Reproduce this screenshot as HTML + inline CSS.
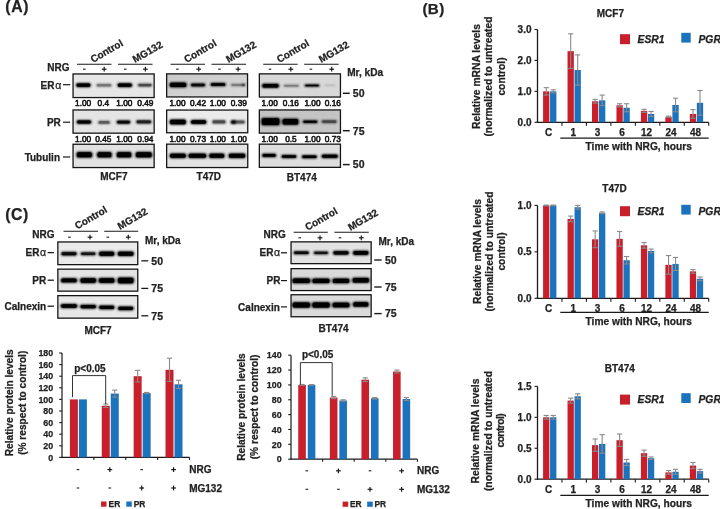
<!DOCTYPE html>
<html><head><meta charset="utf-8"><title>Figure</title>
<style>html,body{margin:0;padding:0;background:#fff;}body{width:720px;height:509px;overflow:hidden;font-family:"Liberation Sans", sans-serif;}svg{display:block;will-change:transform;} text{stroke:#222;stroke-width:0.25px;}</style>
</head><body>
<svg width="720" height="509" viewBox="0 0 720 509" font-family='"Liberation Sans", sans-serif'>
<defs><filter id="bl" x="-40%" y="-250%" width="180%" height="600%"><feGaussianBlur stdDeviation="0.95"/></filter><linearGradient id="gT" x1="0" y1="0" x2="1" y2="1"><stop offset="0" stop-color="#c8c8c8"/><stop offset="1" stop-color="#dadada"/></linearGradient></defs>
<rect width="720" height="509" fill="#fff"/>
<text x="5.3" y="11.9" font-size="15.8" text-anchor="start" font-weight="bold" fill="#222" letter-spacing="0.6">(A)</text>
<text x="422.5" y="13.5" font-size="15.2" text-anchor="start" font-weight="bold" fill="#222" letter-spacing="0.3">(B)</text>
<text x="5.3" y="219.8" font-size="15.8" text-anchor="start" font-weight="bold" fill="#222" letter-spacing="0.5">(C)</text>
<line x1="77.0" y1="64.3" x2="111.5" y2="64.3" stroke="#1a1a1a" stroke-width="1.1"/>
<line x1="118.0" y1="64.3" x2="152.5" y2="64.3" stroke="#1a1a1a" stroke-width="1.1"/>
<text x="93.0" y="63" font-size="10" text-anchor="start" font-weight="bold" fill="#222" transform="rotate(-30 93.0 63)">Control</text>
<text x="135.1" y="63.1" font-size="10" text-anchor="start" font-weight="bold" fill="#222" transform="rotate(-30 135.1 63.1)">MG132</text>
<line x1="83.0" y1="69.2" x2="85.6" y2="69.2" stroke="#1a1a1a" stroke-width="1.1"/>
<line x1="101.8" y1="69.2" x2="106.6" y2="69.2" stroke="#1a1a1a" stroke-width="1.2"/>
<line x1="104.2" y1="66.8" x2="104.2" y2="71.6" stroke="#1a1a1a" stroke-width="1.2"/>
<line x1="124.0" y1="69.2" x2="126.6" y2="69.2" stroke="#1a1a1a" stroke-width="1.1"/>
<line x1="143.0" y1="69.2" x2="147.8" y2="69.2" stroke="#1a1a1a" stroke-width="1.2"/>
<line x1="145.4" y1="66.8" x2="145.4" y2="71.6" stroke="#1a1a1a" stroke-width="1.2"/>
<line x1="170.5" y1="64.3" x2="205" y2="64.3" stroke="#1a1a1a" stroke-width="1.1"/>
<line x1="211.5" y1="64.3" x2="246" y2="64.3" stroke="#1a1a1a" stroke-width="1.1"/>
<text x="186.5" y="63" font-size="10" text-anchor="start" font-weight="bold" fill="#222" transform="rotate(-30 186.5 63)">Control</text>
<text x="228.6" y="63.1" font-size="10" text-anchor="start" font-weight="bold" fill="#222" transform="rotate(-30 228.6 63.1)">MG132</text>
<line x1="176.1" y1="69.2" x2="178.7" y2="69.2" stroke="#1a1a1a" stroke-width="1.1"/>
<line x1="196.3" y1="69.2" x2="201.1" y2="69.2" stroke="#1a1a1a" stroke-width="1.2"/>
<line x1="198.7" y1="66.8" x2="198.7" y2="71.6" stroke="#1a1a1a" stroke-width="1.2"/>
<line x1="218.2" y1="69.2" x2="220.8" y2="69.2" stroke="#1a1a1a" stroke-width="1.1"/>
<line x1="235.7" y1="69.2" x2="240.5" y2="69.2" stroke="#1a1a1a" stroke-width="1.2"/>
<line x1="238.1" y1="66.8" x2="238.1" y2="71.6" stroke="#1a1a1a" stroke-width="1.2"/>
<line x1="263.2" y1="64.3" x2="297.7" y2="64.3" stroke="#1a1a1a" stroke-width="1.1"/>
<line x1="304.2" y1="64.3" x2="338.7" y2="64.3" stroke="#1a1a1a" stroke-width="1.1"/>
<text x="279.2" y="63" font-size="10" text-anchor="start" font-weight="bold" fill="#222" transform="rotate(-30 279.2 63)">Control</text>
<text x="321.3" y="63.1" font-size="10" text-anchor="start" font-weight="bold" fill="#222" transform="rotate(-30 321.3 63.1)">MG132</text>
<line x1="268.7" y1="69.2" x2="271.3" y2="69.2" stroke="#1a1a1a" stroke-width="1.1"/>
<line x1="288.4" y1="69.2" x2="293.2" y2="69.2" stroke="#1a1a1a" stroke-width="1.2"/>
<line x1="290.8" y1="66.8" x2="290.8" y2="71.6" stroke="#1a1a1a" stroke-width="1.2"/>
<line x1="309.6" y1="69.2" x2="312.2" y2="69.2" stroke="#1a1a1a" stroke-width="1.1"/>
<line x1="329.3" y1="69.2" x2="334.1" y2="69.2" stroke="#1a1a1a" stroke-width="1.2"/>
<line x1="331.7" y1="66.8" x2="331.7" y2="71.6" stroke="#1a1a1a" stroke-width="1.2"/>
<text x="69.5" y="71.3" font-size="10" text-anchor="end" font-weight="bold" fill="#222">NRG</text>
<text x="61.3" y="88.7" font-size="10" text-anchor="end" font-weight="bold" fill="#222">ER<tspan font-weight="normal" dx="0.8" font-size="10.5">α</tspan></text>
<line x1="63" y1="84.7" x2="70.2" y2="84.7" stroke="#1a1a1a" stroke-width="1.2"/>
<text x="60.8" y="125.8" font-size="10" text-anchor="end" font-weight="bold" fill="#222">PR</text>
<line x1="63" y1="122.2" x2="70.2" y2="122.2" stroke="#1a1a1a" stroke-width="1.2"/>
<text x="60" y="160.6" font-size="10" text-anchor="end" font-weight="bold" fill="#222">Tubulin</text>
<line x1="63" y1="157" x2="70.2" y2="157" stroke="#1a1a1a" stroke-width="1.2"/>
<rect x="73.05" y="73.95" width="81.1" height="23.6" fill="#e6e6e6" stroke="#151515" stroke-width="1.3"/>
<g opacity="1"><rect x="75.70" y="82.90" width="15.40" height="4.40" rx="2.20" fill="#000" filter="url(#bl)"/><rect x="76.70" y="83.40" width="13.40" height="3.40" rx="1.54" fill="#000"/></g>
<g opacity="0.5"><rect x="96.00" y="83.75" width="16.00" height="3.10" rx="1.55" fill="#000" filter="url(#bl)"/><rect x="97.00" y="84.25" width="14.00" height="2.10" rx="1.08" fill="#000"/></g>
<g opacity="1"><rect x="117.05" y="82.90" width="15.50" height="4.40" rx="2.20" fill="#000" filter="url(#bl)"/><rect x="118.05" y="83.40" width="13.50" height="3.40" rx="1.54" fill="#000"/></g>
<g opacity="0.68"><rect x="137.45" y="83.50" width="14.90" height="3.20" rx="1.60" fill="#000" filter="url(#bl)"/><rect x="138.45" y="84.00" width="12.90" height="2.20" rx="1.12" fill="#000"/></g>
<rect x="73.05" y="109.95" width="81.1" height="23.2" fill="#e4e4e4" stroke="#151515" stroke-width="1.3"/>
<g opacity="1"><rect x="76.30" y="120.10" width="15.40" height="4.00" rx="2.00" fill="#000" filter="url(#bl)"/><rect x="77.30" y="120.60" width="13.40" height="3.00" rx="1.40" fill="#000"/></g>
<g opacity="0.62"><rect x="97.85" y="120.80" width="12.50" height="3.20" rx="1.60" fill="#000" filter="url(#bl)"/><rect x="98.85" y="121.30" width="10.50" height="2.20" rx="1.12" fill="#000"/></g>
<g opacity="0.95"><rect x="116.25" y="120.30" width="14.50" height="3.60" rx="1.80" fill="#000" filter="url(#bl)"/><rect x="117.25" y="120.80" width="12.50" height="2.60" rx="1.26" fill="#000"/></g>
<g opacity="0.85"><rect x="135.80" y="119.95" width="16.00" height="3.70" rx="1.85" fill="#000" filter="url(#bl)"/><rect x="136.80" y="120.45" width="14.00" height="2.70" rx="1.29" fill="#000"/></g>
<rect x="73.05" y="144.25" width="81.1" height="23.3" fill="#e2e2e2" stroke="#151515" stroke-width="1.3"/>
<g opacity="1"><rect x="76.20" y="151.75" width="16.40" height="6.10" rx="2.20" fill="#000" filter="url(#bl)"/><rect x="77.20" y="152.25" width="14.40" height="5.10" rx="1.54" fill="#000"/></g>
<g opacity="1"><rect x="96.65" y="151.75" width="15.50" height="6.10" rx="2.20" fill="#000" filter="url(#bl)"/><rect x="97.65" y="152.25" width="13.50" height="5.10" rx="1.54" fill="#000"/></g>
<g opacity="1"><rect x="116.25" y="151.75" width="15.70" height="6.10" rx="2.20" fill="#000" filter="url(#bl)"/><rect x="117.25" y="152.25" width="13.70" height="5.10" rx="1.54" fill="#000"/></g>
<g opacity="1"><rect x="135.20" y="151.75" width="17.20" height="6.10" rx="2.20" fill="#000" filter="url(#bl)"/><rect x="136.20" y="152.25" width="15.20" height="5.10" rx="1.54" fill="#000"/></g>
<rect x="166.65" y="73.85" width="80.9" height="23.1" fill="url(#gT)" stroke="#151515" stroke-width="1.3"/>
<g opacity="1"><rect x="169.20" y="82.30" width="17.80" height="5.20" rx="2.20" fill="#000" filter="url(#bl)"/><rect x="170.20" y="82.80" width="15.80" height="4.20" rx="1.54" fill="#000"/></g>
<g opacity="0.95"><rect x="190.30" y="83.35" width="15.40" height="3.30" rx="1.65" fill="#000" filter="url(#bl)"/><rect x="191.30" y="83.85" width="13.40" height="2.30" rx="1.16" fill="#000"/></g>
<g opacity="1"><rect x="210.10" y="82.85" width="16.00" height="3.50" rx="1.75" fill="#000" filter="url(#bl)"/><rect x="211.10" y="83.35" width="14.00" height="2.50" rx="1.22" fill="#000"/></g>
<g opacity="0.45"><rect x="230.45" y="83.85" width="14.90" height="2.30" rx="1.15" fill="#000" filter="url(#bl)"/><rect x="231.45" y="84.35" width="12.90" height="1.30" rx="0.81" fill="#000"/></g>
<g opacity="0.6"><rect x="241.65" y="83.85" width="3.70" height="2.10" rx="1.05" fill="#000" filter="url(#bl)"/><rect x="242.65" y="84.35" width="1.70" height="1.10" rx="0.73" fill="#000"/></g>
<rect x="166.65" y="110.05" width="81.1" height="22.7" fill="#ebebeb" stroke="#151515" stroke-width="1.3"/>
<g opacity="1"><rect x="169.30" y="119.25" width="17.20" height="5.50" rx="2.20" fill="#000" filter="url(#bl)"/><rect x="170.30" y="119.75" width="15.20" height="4.50" rx="1.54" fill="#000"/></g>
<g opacity="1"><rect x="190.30" y="119.80" width="16.60" height="4.40" rx="2.20" fill="#000" filter="url(#bl)"/><rect x="191.30" y="120.30" width="14.60" height="3.40" rx="1.54" fill="#000"/></g>
<g opacity="0.68"><rect x="211.85" y="120.05" width="14.30" height="3.70" rx="1.85" fill="#000" filter="url(#bl)"/><rect x="212.85" y="120.55" width="12.30" height="2.70" rx="1.29" fill="#000"/></g>
<g opacity="0.62"><rect x="230.45" y="120.15" width="14.90" height="3.70" rx="1.85" fill="#000" filter="url(#bl)"/><rect x="231.45" y="120.65" width="12.90" height="2.70" rx="1.29" fill="#000"/></g>
<rect x="166.65" y="144.15" width="81.1" height="23.4" fill="#e2e2e2" stroke="#151515" stroke-width="1.3"/>
<g opacity="1"><rect x="169.30" y="153.30" width="17.20" height="5.00" rx="2.20" fill="#000" filter="url(#bl)"/><rect x="170.30" y="153.80" width="15.20" height="4.00" rx="1.54" fill="#000"/></g>
<g opacity="1"><rect x="187.95" y="153.30" width="18.90" height="5.00" rx="2.20" fill="#000" filter="url(#bl)"/><rect x="188.95" y="153.80" width="16.90" height="4.00" rx="1.54" fill="#000"/></g>
<g opacity="1"><rect x="208.60" y="153.30" width="16.40" height="5.00" rx="2.20" fill="#000" filter="url(#bl)"/><rect x="209.60" y="153.80" width="14.40" height="4.00" rx="1.54" fill="#000"/></g>
<g opacity="1"><rect x="228.10" y="153.30" width="17.80" height="5.00" rx="2.20" fill="#000" filter="url(#bl)"/><rect x="229.10" y="153.80" width="15.80" height="4.00" rx="1.54" fill="#000"/></g>
<g opacity="0.8"><rect x="230.65" y="120.15" width="5.70" height="3.90" rx="1.95" fill="#000" filter="url(#bl)"/><rect x="231.65" y="120.65" width="3.70" height="2.90" rx="1.36" fill="#000"/></g>
<rect x="259.35" y="73.85" width="81.1" height="23.2" fill="#d8d8d8" stroke="#151515" stroke-width="1.3"/>
<g opacity="1"><rect x="261.60" y="83.40" width="17.80" height="4.60" rx="2.20" fill="#000" filter="url(#bl)"/><rect x="262.60" y="83.90" width="15.80" height="3.60" rx="1.54" fill="#000"/></g>
<g opacity="0.42"><rect x="283.30" y="84.55" width="16.00" height="2.50" rx="1.25" fill="#000" filter="url(#bl)"/><rect x="284.30" y="85.05" width="14.00" height="1.50" rx="0.88" fill="#000"/></g>
<g opacity="1"><rect x="304.30" y="84.15" width="15.40" height="2.70" rx="1.35" fill="#000" filter="url(#bl)"/><rect x="305.30" y="84.65" width="13.40" height="1.70" rx="0.94" fill="#000"/></g>
<g opacity="0.12"><rect x="324.45" y="84.35" width="11.70" height="1.90" rx="0.95" fill="#000" filter="url(#bl)"/><rect x="325.45" y="84.85" width="9.70" height="0.90" rx="0.67" fill="#000"/></g>
<rect x="259.35" y="109.95" width="81.1" height="23.2" fill="#c4c4c4" stroke="#151515" stroke-width="1.3"/>
<g opacity="1"><rect x="261.10" y="117.65" width="19.00" height="7.90" rx="2.20" fill="#000" filter="url(#bl)"/><rect x="262.10" y="118.15" width="17.00" height="6.90" rx="1.54" fill="#000"/></g>
<g opacity="1"><rect x="281.85" y="118.45" width="17.10" height="6.50" rx="2.20" fill="#000" filter="url(#bl)"/><rect x="282.85" y="118.95" width="15.10" height="5.50" rx="1.54" fill="#000"/></g>
<g opacity="1"><rect x="302.45" y="120.35" width="15.50" height="2.90" rx="1.45" fill="#000" filter="url(#bl)"/><rect x="303.45" y="120.85" width="13.50" height="1.90" rx="1.02" fill="#000"/></g>
<g opacity="0.65"><rect x="321.20" y="120.05" width="16.00" height="3.10" rx="1.55" fill="#000" filter="url(#bl)"/><rect x="322.20" y="120.55" width="14.00" height="2.10" rx="1.08" fill="#000"/></g>
<rect x="259.35" y="144.15" width="81.1" height="23.2" fill="#dedede" stroke="#151515" stroke-width="1.3"/>
<g opacity="1"><rect x="261.65" y="153.45" width="14.90" height="3.90" rx="1.95" fill="#000" filter="url(#bl)"/><rect x="262.65" y="153.95" width="12.90" height="2.90" rx="1.36" fill="#000"/></g>
<g opacity="1"><rect x="281.00" y="154.70" width="16.00" height="3.60" rx="1.80" fill="#000" filter="url(#bl)"/><rect x="282.00" y="155.20" width="14.00" height="2.60" rx="1.26" fill="#000"/></g>
<g opacity="1"><rect x="301.40" y="155.00" width="16.00" height="3.60" rx="1.80" fill="#000" filter="url(#bl)"/><rect x="302.40" y="155.50" width="14.00" height="2.60" rx="1.26" fill="#000"/></g>
<g opacity="1"><rect x="321.20" y="154.35" width="17.20" height="3.90" rx="1.95" fill="#000" filter="url(#bl)"/><rect x="322.20" y="154.85" width="15.20" height="2.90" rx="1.36" fill="#000"/></g>
<text x="83.1" y="105.8" font-size="8.3" text-anchor="middle" font-weight="normal" fill="#111" style="stroke:#111;stroke-width:0.55px">1.00</text>
<text x="103.3" y="105.8" font-size="8.3" text-anchor="middle" font-weight="normal" fill="#111" style="stroke:#111;stroke-width:0.55px">0.4</text>
<text x="124.4" y="105.8" font-size="8.3" text-anchor="middle" font-weight="normal" fill="#111" style="stroke:#111;stroke-width:0.55px">1.00</text>
<text x="145.4" y="105.8" font-size="8.3" text-anchor="middle" font-weight="normal" fill="#111" style="stroke:#111;stroke-width:0.55px">0.49</text>
<text x="83.1" y="141.7" font-size="8.3" text-anchor="middle" font-weight="normal" fill="#111" style="stroke:#111;stroke-width:0.55px">1.00</text>
<text x="103.3" y="141.7" font-size="8.3" text-anchor="middle" font-weight="normal" fill="#111" style="stroke:#111;stroke-width:0.55px">0.45</text>
<text x="124.4" y="141.7" font-size="8.3" text-anchor="middle" font-weight="normal" fill="#111" style="stroke:#111;stroke-width:0.55px">1.00</text>
<text x="145.4" y="141.7" font-size="8.3" text-anchor="middle" font-weight="normal" fill="#111" style="stroke:#111;stroke-width:0.55px">0.94</text>
<text x="177.5" y="105.8" font-size="8.3" text-anchor="middle" font-weight="normal" fill="#111" style="stroke:#111;stroke-width:0.55px">1.00</text>
<text x="198" y="105.8" font-size="8.3" text-anchor="middle" font-weight="normal" fill="#111" style="stroke:#111;stroke-width:0.55px">0.42</text>
<text x="217.9" y="105.8" font-size="8.3" text-anchor="middle" font-weight="normal" fill="#111" style="stroke:#111;stroke-width:0.55px">1.00</text>
<text x="238.8" y="105.8" font-size="8.3" text-anchor="middle" font-weight="normal" fill="#111" style="stroke:#111;stroke-width:0.55px">0.39</text>
<text x="177.5" y="141.7" font-size="8.3" text-anchor="middle" font-weight="normal" fill="#111" style="stroke:#111;stroke-width:0.55px">1.00</text>
<text x="198" y="141.7" font-size="8.3" text-anchor="middle" font-weight="normal" fill="#111" style="stroke:#111;stroke-width:0.55px">0.73</text>
<text x="217.9" y="141.7" font-size="8.3" text-anchor="middle" font-weight="normal" fill="#111" style="stroke:#111;stroke-width:0.55px">1.00</text>
<text x="238.8" y="141.7" font-size="8.3" text-anchor="middle" font-weight="normal" fill="#111" style="stroke:#111;stroke-width:0.55px">1.00</text>
<text x="269.7" y="105.8" font-size="8.3" text-anchor="middle" font-weight="normal" fill="#111" style="stroke:#111;stroke-width:0.55px">1.00</text>
<text x="290.9" y="105.8" font-size="8.3" text-anchor="middle" font-weight="normal" fill="#111" style="stroke:#111;stroke-width:0.55px">0.16</text>
<text x="312.5" y="105.8" font-size="8.3" text-anchor="middle" font-weight="normal" fill="#111" style="stroke:#111;stroke-width:0.55px">1.00</text>
<text x="332.8" y="105.8" font-size="8.3" text-anchor="middle" font-weight="normal" fill="#111" style="stroke:#111;stroke-width:0.55px">0.16</text>
<text x="269.7" y="141.7" font-size="8.3" text-anchor="middle" font-weight="normal" fill="#111" style="stroke:#111;stroke-width:0.55px">1.00</text>
<text x="290.9" y="141.7" font-size="8.3" text-anchor="middle" font-weight="normal" fill="#111" style="stroke:#111;stroke-width:0.55px">0.5</text>
<text x="312.5" y="141.7" font-size="8.3" text-anchor="middle" font-weight="normal" fill="#111" style="stroke:#111;stroke-width:0.55px">1.00</text>
<text x="332.8" y="141.7" font-size="8.3" text-anchor="middle" font-weight="normal" fill="#111" style="stroke:#111;stroke-width:0.55px">0.73</text>
<text x="113.9" y="180.3" font-size="10" text-anchor="middle" font-weight="bold" fill="#222">MCF7</text>
<text x="208.8" y="180.3" font-size="10" text-anchor="middle" font-weight="bold" fill="#222">T47D</text>
<text x="301.8" y="180.5" font-size="10" text-anchor="middle" font-weight="bold" fill="#222">BT474</text>
<text x="347.2" y="75.8" font-size="10.1" text-anchor="start" font-weight="bold" fill="#222">Mr, kDa</text>
<line x1="342.9" y1="93.3" x2="349.7" y2="93.3" stroke="#1a1a1a" stroke-width="1.5"/>
<text x="352.8" y="97.1" font-size="10.5" text-anchor="start" font-weight="bold" fill="#222">50</text>
<line x1="342.9" y1="130.7" x2="349.7" y2="130.7" stroke="#1a1a1a" stroke-width="1.5"/>
<text x="352.8" y="134.5" font-size="10.5" text-anchor="start" font-weight="bold" fill="#222">75</text>
<line x1="342.9" y1="164.6" x2="349.7" y2="164.6" stroke="#1a1a1a" stroke-width="1.5"/>
<text x="352.8" y="168.4" font-size="10.5" text-anchor="start" font-weight="bold" fill="#222">50</text>
<line x1="63.5" y1="231.3" x2="98.0" y2="231.3" stroke="#1a1a1a" stroke-width="1.1"/>
<line x1="104.2" y1="231.3" x2="138.2" y2="231.3" stroke="#1a1a1a" stroke-width="1.1"/>
<text x="77.2" y="229.5" font-size="10" text-anchor="start" font-weight="bold" fill="#222" transform="rotate(-30 77.2 229.5)">Control</text>
<text x="120.0" y="229.9" font-size="10" text-anchor="start" font-weight="bold" fill="#222" transform="rotate(-30 120.0 229.9)">MG132</text>
<line x1="68.1" y1="237.2" x2="70.7" y2="237.2" stroke="#1a1a1a" stroke-width="1.1"/>
<line x1="87.6" y1="237.2" x2="92.4" y2="237.2" stroke="#1a1a1a" stroke-width="1.2"/>
<line x1="90.0" y1="234.8" x2="90.0" y2="239.6" stroke="#1a1a1a" stroke-width="1.2"/>
<line x1="106.5" y1="237.2" x2="109.1" y2="237.2" stroke="#1a1a1a" stroke-width="1.1"/>
<line x1="125.9" y1="237.2" x2="130.7" y2="237.2" stroke="#1a1a1a" stroke-width="1.2"/>
<line x1="128.3" y1="234.8" x2="128.3" y2="239.6" stroke="#1a1a1a" stroke-width="1.2"/>
<text x="54.5" y="238.4" font-size="10" text-anchor="end" font-weight="bold" fill="#222">NRG</text>
<text x="46.2" y="256.0" font-size="10" text-anchor="end" font-weight="bold" fill="#222">ER<tspan font-weight="normal" dx="0.6" font-size="10.5">α</tspan></text>
<line x1="47.6" y1="252.6" x2="53.9" y2="252.6" stroke="#1a1a1a" stroke-width="1.3"/>
<text x="46.2" y="283.8" font-size="10" text-anchor="end" font-weight="bold" fill="#222">PR</text>
<line x1="47.6" y1="280.2" x2="53.9" y2="280.2" stroke="#1a1a1a" stroke-width="1.3"/>
<text x="46.2" y="309.8" font-size="10" text-anchor="end" font-weight="bold" fill="#222">Calnexin</text>
<line x1="47.6" y1="306.2" x2="53.9" y2="306.2" stroke="#1a1a1a" stroke-width="1.3"/>
<rect x="57.85" y="241.95" width="79.9" height="22.7" fill="#eaeaea" stroke="#151515" stroke-width="1.3"/>
<g opacity="0.95"><rect x="60.75" y="251.75" width="16.50" height="3.90" rx="1.95" fill="#000" filter="url(#bl)"/><rect x="61.75" y="252.25" width="14.50" height="2.90" rx="1.36" fill="#000"/></g>
<g opacity="0.9"><rect x="80.20" y="251.90" width="16.00" height="3.60" rx="1.80" fill="#000" filter="url(#bl)"/><rect x="81.20" y="252.40" width="14.00" height="2.60" rx="1.26" fill="#000"/></g>
<g opacity="1"><rect x="98.45" y="251.15" width="16.50" height="5.10" rx="2.20" fill="#000" filter="url(#bl)"/><rect x="99.45" y="251.65" width="14.50" height="4.10" rx="1.54" fill="#000"/></g>
<g opacity="1"><rect x="117.20" y="251.15" width="17.00" height="5.10" rx="2.20" fill="#000" filter="url(#bl)"/><rect x="118.20" y="251.65" width="15.00" height="4.10" rx="1.54" fill="#000"/></g>
<rect x="57.85" y="269.15" width="79.9" height="22.0" fill="#e4e4e4" stroke="#151515" stroke-width="1.3"/>
<g opacity="1"><rect x="60.50" y="277.95" width="17.00" height="4.90" rx="2.20" fill="#000" filter="url(#bl)"/><rect x="61.50" y="278.45" width="15.00" height="3.90" rx="1.54" fill="#000"/></g>
<g opacity="1"><rect x="79.70" y="277.65" width="17.00" height="5.50" rx="2.20" fill="#000" filter="url(#bl)"/><rect x="80.70" y="278.15" width="15.00" height="4.50" rx="1.54" fill="#000"/></g>
<g opacity="1"><rect x="98.20" y="277.65" width="17.00" height="5.50" rx="2.20" fill="#000" filter="url(#bl)"/><rect x="99.20" y="278.15" width="15.00" height="4.50" rx="1.54" fill="#000"/></g>
<g opacity="1"><rect x="117.20" y="277.15" width="17.00" height="6.50" rx="2.20" fill="#000" filter="url(#bl)"/><rect x="118.20" y="277.65" width="15.00" height="5.50" rx="1.54" fill="#000"/></g>
<rect x="57.85" y="295.65" width="79.9" height="22.5" fill="#e8e8e8" stroke="#151515" stroke-width="1.3"/>
<g opacity="1"><rect x="60.25" y="303.65" width="17.50" height="4.50" rx="2.20" fill="#000" filter="url(#bl)"/><rect x="61.25" y="304.15" width="15.50" height="3.50" rx="1.54" fill="#000"/></g>
<g opacity="1"><rect x="79.70" y="304.45" width="17.00" height="4.30" rx="2.15" fill="#000" filter="url(#bl)"/><rect x="80.70" y="304.95" width="15.00" height="3.30" rx="1.50" fill="#000"/></g>
<g opacity="1"><rect x="98.45" y="305.35" width="16.50" height="4.10" rx="2.05" fill="#000" filter="url(#bl)"/><rect x="99.45" y="305.85" width="14.50" height="3.10" rx="1.44" fill="#000"/></g>
<g opacity="1"><rect x="117.45" y="306.35" width="16.50" height="4.10" rx="2.05" fill="#000" filter="url(#bl)"/><rect x="118.45" y="306.85" width="14.50" height="3.10" rx="1.44" fill="#000"/></g>
<text x="145" y="243.6" font-size="10" text-anchor="start" font-weight="bold" fill="#222">Mr, kDa</text>
<line x1="141.3" y1="260.8" x2="148.3" y2="260.8" stroke="#1a1a1a" stroke-width="1.3"/>
<text x="151.3" y="264.6" font-size="10.5" text-anchor="start" font-weight="bold" fill="#222">50</text>
<line x1="141.3" y1="288.4" x2="148.3" y2="288.4" stroke="#1a1a1a" stroke-width="1.3"/>
<text x="151.3" y="292.2" font-size="10.5" text-anchor="start" font-weight="bold" fill="#222">75</text>
<line x1="141.3" y1="315.8" x2="148.3" y2="315.8" stroke="#1a1a1a" stroke-width="1.3"/>
<text x="151.3" y="319.6" font-size="10.5" text-anchor="start" font-weight="bold" fill="#222">75</text>
<text x="98" y="333.7" font-size="10" text-anchor="middle" font-weight="bold" fill="#222">MCF7</text>
<line x1="293.7" y1="232.3" x2="327.8" y2="232.3" stroke="#1a1a1a" stroke-width="1.1"/>
<line x1="334.4" y1="232.3" x2="368.8" y2="232.3" stroke="#1a1a1a" stroke-width="1.1"/>
<text x="307.5" y="230.8" font-size="10" text-anchor="start" font-weight="bold" fill="#222" transform="rotate(-30 307.5 230.8)">Control</text>
<text x="350.4" y="231" font-size="10" text-anchor="start" font-weight="bold" fill="#222" transform="rotate(-30 350.4 231)">MG132</text>
<line x1="298.5" y1="237.8" x2="301.1" y2="237.8" stroke="#1a1a1a" stroke-width="1.1"/>
<line x1="317.6" y1="237.8" x2="322.4" y2="237.8" stroke="#1a1a1a" stroke-width="1.2"/>
<line x1="320.0" y1="235.4" x2="320.0" y2="240.2" stroke="#1a1a1a" stroke-width="1.2"/>
<line x1="338.7" y1="237.8" x2="341.3" y2="237.8" stroke="#1a1a1a" stroke-width="1.1"/>
<line x1="358.9" y1="237.8" x2="363.7" y2="237.8" stroke="#1a1a1a" stroke-width="1.2"/>
<line x1="361.3" y1="235.4" x2="361.3" y2="240.2" stroke="#1a1a1a" stroke-width="1.2"/>
<text x="285.7" y="237.8" font-size="10" text-anchor="end" font-weight="bold" fill="#222">NRG</text>
<text x="280.2" y="256.2" font-size="10" text-anchor="end" font-weight="bold" fill="#222">ER<tspan font-weight="normal" dx="0.6" font-size="10.5">α</tspan></text>
<line x1="281" y1="252.8" x2="287" y2="252.8" stroke="#1a1a1a" stroke-width="1.3"/>
<text x="280.4" y="284.2" font-size="10" text-anchor="end" font-weight="bold" fill="#222">PR</text>
<line x1="281" y1="280.6" x2="287" y2="280.6" stroke="#1a1a1a" stroke-width="1.2"/>
<text x="279.8" y="310.5" font-size="10" text-anchor="end" font-weight="bold" fill="#222">Calnexin</text>
<line x1="281" y1="306.9" x2="287" y2="306.9" stroke="#1a1a1a" stroke-width="1.2"/>
<rect x="291.05" y="241.85" width="80.1" height="21.8" fill="#e2e2e2" stroke="#151515" stroke-width="1.3"/>
<g opacity="0.95"><rect x="293.15" y="251.00" width="16.30" height="3.60" rx="1.80" fill="#000" filter="url(#bl)"/><rect x="294.15" y="251.50" width="14.30" height="2.60" rx="1.26" fill="#000"/></g>
<g opacity="0.9"><rect x="313.25" y="251.15" width="15.50" height="3.30" rx="1.65" fill="#000" filter="url(#bl)"/><rect x="314.25" y="251.65" width="13.50" height="2.30" rx="1.16" fill="#000"/></g>
<g opacity="0.97"><rect x="332.60" y="250.70" width="16.80" height="4.20" rx="2.10" fill="#000" filter="url(#bl)"/><rect x="333.60" y="251.20" width="14.80" height="3.20" rx="1.47" fill="#000"/></g>
<g opacity="1"><rect x="352.45" y="250.45" width="16.70" height="4.70" rx="2.20" fill="#000" filter="url(#bl)"/><rect x="353.45" y="250.95" width="14.70" height="3.70" rx="1.54" fill="#000"/></g>
<rect x="291.05" y="268.65" width="80.1" height="21.9" fill="#d9d9d9" stroke="#151515" stroke-width="1.3"/>
<g opacity="1"><rect x="291.90" y="278.05" width="18.80" height="5.50" rx="2.20" fill="#000" filter="url(#bl)"/><rect x="292.90" y="278.55" width="16.80" height="4.50" rx="1.54" fill="#000"/></g>
<g opacity="1"><rect x="311.75" y="278.15" width="18.50" height="5.30" rx="2.20" fill="#000" filter="url(#bl)"/><rect x="312.75" y="278.65" width="16.50" height="4.30" rx="1.54" fill="#000"/></g>
<g opacity="1"><rect x="332.00" y="278.15" width="18.00" height="5.30" rx="2.20" fill="#000" filter="url(#bl)"/><rect x="333.00" y="278.65" width="16.00" height="4.30" rx="1.54" fill="#000"/></g>
<g opacity="1"><rect x="351.90" y="277.45" width="17.80" height="5.50" rx="2.20" fill="#000" filter="url(#bl)"/><rect x="352.90" y="277.95" width="15.80" height="4.50" rx="1.54" fill="#000"/></g>
<rect x="291.05" y="294.75" width="80.1" height="22.0" fill="#dadada" stroke="#151515" stroke-width="1.3"/>
<g opacity="1"><rect x="291.90" y="302.05" width="18.80" height="5.90" rx="2.20" fill="#000" filter="url(#bl)"/><rect x="292.90" y="302.55" width="16.80" height="4.90" rx="1.54" fill="#000"/></g>
<g opacity="1"><rect x="311.60" y="302.05" width="18.80" height="5.90" rx="2.20" fill="#000" filter="url(#bl)"/><rect x="312.60" y="302.55" width="16.80" height="4.90" rx="1.54" fill="#000"/></g>
<g opacity="1"><rect x="331.90" y="302.15" width="18.20" height="5.70" rx="2.20" fill="#000" filter="url(#bl)"/><rect x="332.90" y="302.65" width="16.20" height="4.70" rx="1.54" fill="#000"/></g>
<g opacity="1"><rect x="352.45" y="301.85" width="16.70" height="5.10" rx="2.20" fill="#000" filter="url(#bl)"/><rect x="353.45" y="302.35" width="14.70" height="4.10" rx="1.54" fill="#000"/></g>
<text x="378.5" y="244.5" font-size="10" text-anchor="start" font-weight="bold" fill="#222">Mr, kDa</text>
<line x1="374.3" y1="260" x2="381.6" y2="260" stroke="#1a1a1a" stroke-width="1.4"/>
<text x="385" y="263.8" font-size="10.5" text-anchor="start" font-weight="bold" fill="#222">50</text>
<line x1="374.3" y1="287" x2="381.6" y2="287" stroke="#1a1a1a" stroke-width="1.4"/>
<text x="385" y="290.8" font-size="10.5" text-anchor="start" font-weight="bold" fill="#222">75</text>
<line x1="374.3" y1="313.6" x2="381.6" y2="313.6" stroke="#1a1a1a" stroke-width="1.4"/>
<text x="385" y="317.4" font-size="10.5" text-anchor="start" font-weight="bold" fill="#222">75</text>
<text x="333.5" y="331.7" font-size="10" text-anchor="middle" font-weight="bold" fill="#222">BT474</text>
<line x1="62" y1="353.0" x2="62" y2="458.0" stroke="#1a1a1a" stroke-width="1.2"/>
<line x1="61.4" y1="457.4" x2="189.5" y2="457.4" stroke="#1a1a1a" stroke-width="1.2"/>
<line x1="93.88" y1="457.4" x2="93.88" y2="460.0" stroke="#1a1a1a" stroke-width="1.1"/>
<line x1="125.75" y1="457.4" x2="125.75" y2="460.0" stroke="#1a1a1a" stroke-width="1.1"/>
<line x1="157.62" y1="457.4" x2="157.62" y2="460.0" stroke="#1a1a1a" stroke-width="1.1"/>
<line x1="189.5" y1="457.4" x2="189.5" y2="460.0" stroke="#1a1a1a" stroke-width="1.1"/>
<line x1="59.2" y1="457.4" x2="62" y2="457.4" stroke="#1a1a1a" stroke-width="1.1"/>
<text x="53.2" y="460.6" font-size="8.9" text-anchor="end" font-weight="bold" fill="#222">0</text>
<line x1="59.2" y1="445.8" x2="62" y2="445.8" stroke="#1a1a1a" stroke-width="1.1"/>
<text x="53.2" y="449" font-size="8.9" text-anchor="end" font-weight="bold" fill="#222">20</text>
<line x1="59.2" y1="434.2" x2="62" y2="434.2" stroke="#1a1a1a" stroke-width="1.1"/>
<text x="53.2" y="437.4" font-size="8.9" text-anchor="end" font-weight="bold" fill="#222">40</text>
<line x1="59.2" y1="422.6" x2="62" y2="422.6" stroke="#1a1a1a" stroke-width="1.1"/>
<text x="53.2" y="425.8" font-size="8.9" text-anchor="end" font-weight="bold" fill="#222">60</text>
<line x1="59.2" y1="411.0" x2="62" y2="411.0" stroke="#1a1a1a" stroke-width="1.1"/>
<text x="53.2" y="414.2" font-size="8.9" text-anchor="end" font-weight="bold" fill="#222">80</text>
<line x1="59.2" y1="399.4" x2="62" y2="399.4" stroke="#1a1a1a" stroke-width="1.1"/>
<text x="53.2" y="402.6" font-size="8.9" text-anchor="end" font-weight="bold" fill="#222">100</text>
<line x1="59.2" y1="387.8" x2="62" y2="387.8" stroke="#1a1a1a" stroke-width="1.1"/>
<text x="53.2" y="391" font-size="8.9" text-anchor="end" font-weight="bold" fill="#222">120</text>
<line x1="59.2" y1="376.2" x2="62" y2="376.2" stroke="#1a1a1a" stroke-width="1.1"/>
<text x="53.2" y="379.4" font-size="8.9" text-anchor="end" font-weight="bold" fill="#222">140</text>
<line x1="59.2" y1="364.6" x2="62" y2="364.6" stroke="#1a1a1a" stroke-width="1.1"/>
<text x="53.2" y="367.8" font-size="8.9" text-anchor="end" font-weight="bold" fill="#222">160</text>
<line x1="59.2" y1="353.0" x2="62" y2="353.0" stroke="#1a1a1a" stroke-width="1.1"/>
<text x="53.2" y="356.2" font-size="8.9" text-anchor="end" font-weight="bold" fill="#222">180</text>
<rect x="69.89" y="399.4" width="8" height="58" fill="#c91f2b"/>
<rect x="78.89" y="399.4" width="8" height="58" fill="#1b72bd"/>
<rect x="101.76" y="405.78" width="8" height="51.62" fill="#c91f2b"/>
<rect x="110.76" y="393.6" width="8" height="63.8" fill="#1b72bd"/>
<line x1="105.76" y1="404.04" x2="105.76" y2="407.52" stroke="#8a8a8a" stroke-width="1.1"/>
<line x1="103.16" y1="404.04" x2="108.36" y2="404.04" stroke="#8a8a8a" stroke-width="1.1"/>
<line x1="103.16" y1="407.52" x2="108.36" y2="407.52" stroke="#8a8a8a" stroke-width="1.1"/>
<line x1="114.76" y1="390.12" x2="114.76" y2="397.08" stroke="#8a8a8a" stroke-width="1.1"/>
<line x1="112.16" y1="390.12" x2="117.36" y2="390.12" stroke="#8a8a8a" stroke-width="1.1"/>
<line x1="112.16" y1="397.08" x2="117.36" y2="397.08" stroke="#8a8a8a" stroke-width="1.1"/>
<rect x="133.64" y="376.2" width="8" height="81.2" fill="#c91f2b"/>
<rect x="142.64" y="393.02" width="8" height="64.38" fill="#1b72bd"/>
<line x1="137.64" y1="370.4" x2="137.64" y2="382.0" stroke="#8a8a8a" stroke-width="1.1"/>
<line x1="135.04" y1="370.4" x2="140.24" y2="370.4" stroke="#8a8a8a" stroke-width="1.1"/>
<line x1="135.04" y1="382.0" x2="140.24" y2="382.0" stroke="#8a8a8a" stroke-width="1.1"/>
<line x1="146.64" y1="392.44" x2="146.64" y2="393.6" stroke="#8a8a8a" stroke-width="1.1"/>
<line x1="144.04" y1="392.44" x2="149.24" y2="392.44" stroke="#8a8a8a" stroke-width="1.1"/>
<line x1="144.04" y1="393.6" x2="149.24" y2="393.6" stroke="#8a8a8a" stroke-width="1.1"/>
<rect x="165.51" y="369.82" width="8" height="87.58" fill="#c91f2b"/>
<rect x="174.51" y="384.32" width="8" height="73.08" fill="#1b72bd"/>
<line x1="169.51" y1="358.22" x2="169.51" y2="381.42" stroke="#8a8a8a" stroke-width="1.1"/>
<line x1="166.91" y1="358.22" x2="172.11" y2="358.22" stroke="#8a8a8a" stroke-width="1.1"/>
<line x1="166.91" y1="381.42" x2="172.11" y2="381.42" stroke="#8a8a8a" stroke-width="1.1"/>
<line x1="178.51" y1="380.26" x2="178.51" y2="388.38" stroke="#8a8a8a" stroke-width="1.1"/>
<line x1="175.91" y1="380.26" x2="181.11" y2="380.26" stroke="#8a8a8a" stroke-width="1.1"/>
<line x1="175.91" y1="388.38" x2="181.11" y2="388.38" stroke="#8a8a8a" stroke-width="1.1"/>
<line x1="72.5" y1="375.6" x2="72.5" y2="397.2" stroke="#333" stroke-width="1"/>
<line x1="72.5" y1="375.6" x2="105.7" y2="375.6" stroke="#333" stroke-width="1"/>
<line x1="105.7" y1="375.6" x2="105.7" y2="404" stroke="#333" stroke-width="1"/>
<text x="89.9" y="371.6" font-size="10" text-anchor="middle" font-weight="bold" fill="#222">p&lt;0.05</text>
<text x="13.3" y="402.8" font-size="10.15" text-anchor="middle" font-weight="bold" fill="#222" transform="rotate(-90 13.3 402.8)">Relative protein levels</text>
<text x="26.4" y="402.8" font-size="10.15" text-anchor="middle" font-weight="bold" fill="#222" transform="rotate(-90 26.4 402.8)">(% respect to control)</text>
<line x1="76.64" y1="469.6" x2="79.24" y2="469.6" stroke="#1a1a1a" stroke-width="1.1"/>
<line x1="76.64" y1="488" x2="79.24" y2="488" stroke="#1a1a1a" stroke-width="1.1"/>
<line x1="107.41" y1="469.6" x2="112.21" y2="469.6" stroke="#1a1a1a" stroke-width="1.2"/>
<line x1="109.81" y1="467.2" x2="109.81" y2="472.0" stroke="#1a1a1a" stroke-width="1.2"/>
<line x1="108.51" y1="488" x2="111.11" y2="488" stroke="#1a1a1a" stroke-width="1.1"/>
<line x1="140.39" y1="469.6" x2="142.99" y2="469.6" stroke="#1a1a1a" stroke-width="1.1"/>
<line x1="139.29" y1="488" x2="144.09" y2="488" stroke="#1a1a1a" stroke-width="1.2"/>
<line x1="141.69" y1="485.6" x2="141.69" y2="490.4" stroke="#1a1a1a" stroke-width="1.2"/>
<line x1="171.16" y1="469.6" x2="175.96" y2="469.6" stroke="#1a1a1a" stroke-width="1.2"/>
<line x1="173.56" y1="467.2" x2="173.56" y2="472.0" stroke="#1a1a1a" stroke-width="1.2"/>
<line x1="171.16" y1="488" x2="175.96" y2="488" stroke="#1a1a1a" stroke-width="1.2"/>
<line x1="173.56" y1="485.6" x2="173.56" y2="490.4" stroke="#1a1a1a" stroke-width="1.2"/>
<text x="189.2" y="473.1" font-size="10" text-anchor="start" font-weight="bold" fill="#222">NRG</text>
<text x="189.2" y="491.8" font-size="10" text-anchor="start" font-weight="bold" fill="#222">MG132</text>
<rect x="101" y="501.5" width="5.5" height="5.2" fill="#c91f2b"/>
<text x="108.6" y="506.9" font-size="8.4" text-anchor="start" font-weight="bold" fill="#222">ER</text>
<rect x="126.3" y="501.5" width="5.5" height="5.2" fill="#1b72bd"/>
<text x="133.7" y="506.9" font-size="8.4" text-anchor="start" font-weight="bold" fill="#222">PR</text>
<line x1="291" y1="355.18" x2="291" y2="459.8" stroke="#1a1a1a" stroke-width="1.2"/>
<line x1="290.4" y1="459.2" x2="417.4" y2="459.2" stroke="#1a1a1a" stroke-width="1.2"/>
<line x1="322.6" y1="459.2" x2="322.6" y2="461.8" stroke="#1a1a1a" stroke-width="1.1"/>
<line x1="354.2" y1="459.2" x2="354.2" y2="461.8" stroke="#1a1a1a" stroke-width="1.1"/>
<line x1="385.8" y1="459.2" x2="385.8" y2="461.8" stroke="#1a1a1a" stroke-width="1.1"/>
<line x1="417.4" y1="459.2" x2="417.4" y2="461.8" stroke="#1a1a1a" stroke-width="1.1"/>
<line x1="288.2" y1="459.2" x2="291" y2="459.2" stroke="#1a1a1a" stroke-width="1.1"/>
<text x="281.6" y="462.4" font-size="8.9" text-anchor="end" font-weight="bold" fill="#222">0</text>
<line x1="288.2" y1="444.34" x2="291" y2="444.34" stroke="#1a1a1a" stroke-width="1.1"/>
<text x="281.6" y="447.54" font-size="8.9" text-anchor="end" font-weight="bold" fill="#222">20</text>
<line x1="288.2" y1="429.48" x2="291" y2="429.48" stroke="#1a1a1a" stroke-width="1.1"/>
<text x="281.6" y="432.68" font-size="8.9" text-anchor="end" font-weight="bold" fill="#222">40</text>
<line x1="288.2" y1="414.62" x2="291" y2="414.62" stroke="#1a1a1a" stroke-width="1.1"/>
<text x="281.6" y="417.82" font-size="8.9" text-anchor="end" font-weight="bold" fill="#222">60</text>
<line x1="288.2" y1="399.76" x2="291" y2="399.76" stroke="#1a1a1a" stroke-width="1.1"/>
<text x="281.6" y="402.96" font-size="8.9" text-anchor="end" font-weight="bold" fill="#222">80</text>
<line x1="288.2" y1="384.9" x2="291" y2="384.9" stroke="#1a1a1a" stroke-width="1.1"/>
<text x="281.6" y="388.1" font-size="8.9" text-anchor="end" font-weight="bold" fill="#222">100</text>
<line x1="288.2" y1="370.04" x2="291" y2="370.04" stroke="#1a1a1a" stroke-width="1.1"/>
<text x="281.6" y="373.24" font-size="8.9" text-anchor="end" font-weight="bold" fill="#222">120</text>
<line x1="288.2" y1="355.18" x2="291" y2="355.18" stroke="#1a1a1a" stroke-width="1.1"/>
<text x="281.6" y="358.38" font-size="8.9" text-anchor="end" font-weight="bold" fill="#222">140</text>
<rect x="298.25" y="384.9" width="7.6" height="74.3" fill="#c91f2b"/>
<rect x="307.75" y="384.9" width="7.6" height="74.3" fill="#1b72bd"/>
<line x1="302.05" y1="384.45" x2="302.05" y2="385.35" stroke="#8a8a8a" stroke-width="1.1"/>
<line x1="299.45" y1="384.45" x2="304.65" y2="384.45" stroke="#8a8a8a" stroke-width="1.1"/>
<line x1="299.45" y1="385.35" x2="304.65" y2="385.35" stroke="#8a8a8a" stroke-width="1.1"/>
<line x1="311.55" y1="384.6" x2="311.55" y2="385.2" stroke="#8a8a8a" stroke-width="1.1"/>
<line x1="308.95" y1="384.6" x2="314.15" y2="384.6" stroke="#8a8a8a" stroke-width="1.1"/>
<line x1="308.95" y1="385.2" x2="314.15" y2="385.2" stroke="#8a8a8a" stroke-width="1.1"/>
<rect x="329.85" y="397.53" width="7.6" height="61.67" fill="#c91f2b"/>
<rect x="339.35" y="400.5" width="7.6" height="58.7" fill="#1b72bd"/>
<line x1="333.65" y1="396.42" x2="333.65" y2="398.65" stroke="#8a8a8a" stroke-width="1.1"/>
<line x1="331.05" y1="396.42" x2="336.25" y2="396.42" stroke="#8a8a8a" stroke-width="1.1"/>
<line x1="331.05" y1="398.65" x2="336.25" y2="398.65" stroke="#8a8a8a" stroke-width="1.1"/>
<line x1="343.15" y1="399.76" x2="343.15" y2="401.25" stroke="#8a8a8a" stroke-width="1.1"/>
<line x1="340.55" y1="399.76" x2="345.75" y2="399.76" stroke="#8a8a8a" stroke-width="1.1"/>
<line x1="340.55" y1="401.25" x2="345.75" y2="401.25" stroke="#8a8a8a" stroke-width="1.1"/>
<rect x="361.45" y="379.7" width="7.6" height="79.5" fill="#c91f2b"/>
<rect x="370.95" y="398.27" width="7.6" height="60.93" fill="#1b72bd"/>
<line x1="365.25" y1="377.84" x2="365.25" y2="381.56" stroke="#8a8a8a" stroke-width="1.1"/>
<line x1="362.65" y1="377.84" x2="367.85" y2="377.84" stroke="#8a8a8a" stroke-width="1.1"/>
<line x1="362.65" y1="381.56" x2="367.85" y2="381.56" stroke="#8a8a8a" stroke-width="1.1"/>
<line x1="374.75" y1="397.53" x2="374.75" y2="399.02" stroke="#8a8a8a" stroke-width="1.1"/>
<line x1="372.15" y1="397.53" x2="377.35" y2="397.53" stroke="#8a8a8a" stroke-width="1.1"/>
<line x1="372.15" y1="399.02" x2="377.35" y2="399.02" stroke="#8a8a8a" stroke-width="1.1"/>
<rect x="393.05" y="371.53" width="7.6" height="87.67" fill="#c91f2b"/>
<rect x="402.55" y="399.02" width="7.6" height="60.18" fill="#1b72bd"/>
<line x1="396.85" y1="370.04" x2="396.85" y2="373.01" stroke="#8a8a8a" stroke-width="1.1"/>
<line x1="394.25" y1="370.04" x2="399.45" y2="370.04" stroke="#8a8a8a" stroke-width="1.1"/>
<line x1="394.25" y1="373.01" x2="399.45" y2="373.01" stroke="#8a8a8a" stroke-width="1.1"/>
<line x1="406.35" y1="397.53" x2="406.35" y2="400.5" stroke="#8a8a8a" stroke-width="1.1"/>
<line x1="403.75" y1="397.53" x2="408.95" y2="397.53" stroke="#8a8a8a" stroke-width="1.1"/>
<line x1="403.75" y1="400.5" x2="408.95" y2="400.5" stroke="#8a8a8a" stroke-width="1.1"/>
<line x1="300.4" y1="362.6" x2="300.4" y2="384.7" stroke="#333" stroke-width="1"/>
<line x1="300.4" y1="362.6" x2="332.2" y2="362.6" stroke="#333" stroke-width="1"/>
<line x1="332.2" y1="362.6" x2="332.2" y2="395.7" stroke="#333" stroke-width="1"/>
<text x="317.6" y="358.0" font-size="10" text-anchor="middle" font-weight="bold" fill="#222">p&lt;0.05</text>
<text x="244.9" y="407" font-size="10.2" text-anchor="middle" font-weight="bold" fill="#222" transform="rotate(-90 244.9 407)">Relative protein levels</text>
<text x="258.0" y="407" font-size="10.2" text-anchor="middle" font-weight="bold" fill="#222" transform="rotate(-90 258.0 407)">(% respect to control)</text>
<line x1="305.5" y1="470.8" x2="308.1" y2="470.8" stroke="#1a1a1a" stroke-width="1.1"/>
<line x1="305.5" y1="489.3" x2="308.1" y2="489.3" stroke="#1a1a1a" stroke-width="1.1"/>
<line x1="336.0" y1="470.8" x2="340.8" y2="470.8" stroke="#1a1a1a" stroke-width="1.2"/>
<line x1="338.4" y1="468.4" x2="338.4" y2="473.2" stroke="#1a1a1a" stroke-width="1.2"/>
<line x1="337.1" y1="489.3" x2="339.7" y2="489.3" stroke="#1a1a1a" stroke-width="1.1"/>
<line x1="368.7" y1="470.8" x2="371.3" y2="470.8" stroke="#1a1a1a" stroke-width="1.1"/>
<line x1="367.6" y1="489.3" x2="372.4" y2="489.3" stroke="#1a1a1a" stroke-width="1.2"/>
<line x1="370.0" y1="486.9" x2="370.0" y2="491.7" stroke="#1a1a1a" stroke-width="1.2"/>
<line x1="399.2" y1="470.8" x2="404.0" y2="470.8" stroke="#1a1a1a" stroke-width="1.2"/>
<line x1="401.6" y1="468.4" x2="401.6" y2="473.2" stroke="#1a1a1a" stroke-width="1.2"/>
<line x1="399.2" y1="489.3" x2="404.0" y2="489.3" stroke="#1a1a1a" stroke-width="1.2"/>
<line x1="401.6" y1="486.9" x2="401.6" y2="491.7" stroke="#1a1a1a" stroke-width="1.2"/>
<text x="417" y="473.9" font-size="10" text-anchor="start" font-weight="bold" fill="#222">NRG</text>
<text x="417" y="493.3" font-size="10" text-anchor="start" font-weight="bold" fill="#222">MG132</text>
<rect x="342.6" y="501.6" width="5.6" height="5.2" fill="#c91f2b"/>
<text x="350" y="507.2" font-size="8.4" text-anchor="start" font-weight="bold" fill="#222">ER</text>
<rect x="367.2" y="501.6" width="5.6" height="5.2" fill="#1b72bd"/>
<text x="374.5" y="507.2" font-size="8.4" text-anchor="start" font-weight="bold" fill="#222">PR</text>
<line x1="537.5" y1="29.51" x2="537.5" y2="122.9" stroke="#1a1a1a" stroke-width="1.3"/>
<line x1="536.9" y1="122.3" x2="708.72" y2="122.3" stroke="#1a1a1a" stroke-width="1.3"/>
<line x1="561.96" y1="122.3" x2="561.96" y2="125.7" stroke="#1a1a1a" stroke-width="1.1"/>
<line x1="586.42" y1="122.3" x2="586.42" y2="125.7" stroke="#1a1a1a" stroke-width="1.1"/>
<line x1="610.88" y1="122.3" x2="610.88" y2="125.7" stroke="#1a1a1a" stroke-width="1.1"/>
<line x1="635.34" y1="122.3" x2="635.34" y2="125.7" stroke="#1a1a1a" stroke-width="1.1"/>
<line x1="659.8" y1="122.3" x2="659.8" y2="125.7" stroke="#1a1a1a" stroke-width="1.1"/>
<line x1="684.26" y1="122.3" x2="684.26" y2="125.7" stroke="#1a1a1a" stroke-width="1.1"/>
<line x1="708.72" y1="122.3" x2="708.72" y2="125.7" stroke="#1a1a1a" stroke-width="1.1"/>
<line x1="534.5" y1="122.3" x2="537.5" y2="122.3" stroke="#1a1a1a" stroke-width="1.1"/>
<text x="531.5" y="125.9" font-size="10" text-anchor="end" font-weight="bold" fill="#222">0.0</text>
<line x1="534.5" y1="91.37" x2="537.5" y2="91.37" stroke="#1a1a1a" stroke-width="1.1"/>
<text x="531.5" y="94.97" font-size="10" text-anchor="end" font-weight="bold" fill="#222">1.0</text>
<line x1="534.5" y1="60.44" x2="537.5" y2="60.44" stroke="#1a1a1a" stroke-width="1.1"/>
<text x="531.5" y="64.04" font-size="10" text-anchor="end" font-weight="bold" fill="#222">2.0</text>
<line x1="534.5" y1="29.51" x2="537.5" y2="29.51" stroke="#1a1a1a" stroke-width="1.1"/>
<text x="531.5" y="33.11" font-size="10" text-anchor="end" font-weight="bold" fill="#222">3.0</text>
<rect x="543.08" y="91.37" width="6.3" height="30.93" fill="#c91f2b"/>
<rect x="550.08" y="91.37" width="6.3" height="30.93" fill="#1b72bd"/>
<line x1="546.23" y1="87.66" x2="546.23" y2="95.08" stroke="#8a8a8a" stroke-width="1.1"/>
<line x1="543.63" y1="87.66" x2="548.83" y2="87.66" stroke="#8a8a8a" stroke-width="1.1"/>
<line x1="543.63" y1="95.08" x2="548.83" y2="95.08" stroke="#8a8a8a" stroke-width="1.1"/>
<line x1="553.23" y1="89.82" x2="553.23" y2="92.92" stroke="#8a8a8a" stroke-width="1.1"/>
<line x1="550.63" y1="89.82" x2="555.83" y2="89.82" stroke="#8a8a8a" stroke-width="1.1"/>
<line x1="550.63" y1="92.92" x2="555.83" y2="92.92" stroke="#8a8a8a" stroke-width="1.1"/>
<rect x="567.54" y="51.16" width="6.3" height="71.14" fill="#c91f2b"/>
<rect x="574.54" y="70.03" width="6.3" height="52.27" fill="#1b72bd"/>
<line x1="570.69" y1="33.84" x2="570.69" y2="68.48" stroke="#8a8a8a" stroke-width="1.1"/>
<line x1="568.09" y1="33.84" x2="573.29" y2="33.84" stroke="#8a8a8a" stroke-width="1.1"/>
<line x1="568.09" y1="68.48" x2="573.29" y2="68.48" stroke="#8a8a8a" stroke-width="1.1"/>
<line x1="577.69" y1="54.87" x2="577.69" y2="85.18" stroke="#8a8a8a" stroke-width="1.1"/>
<line x1="575.09" y1="54.87" x2="580.29" y2="54.87" stroke="#8a8a8a" stroke-width="1.1"/>
<line x1="575.09" y1="85.18" x2="580.29" y2="85.18" stroke="#8a8a8a" stroke-width="1.1"/>
<rect x="592.0" y="101.27" width="6.3" height="21.03" fill="#c91f2b"/>
<rect x="599.0" y="100.34" width="6.3" height="21.96" fill="#1b72bd"/>
<line x1="595.15" y1="99.41" x2="595.15" y2="103.12" stroke="#8a8a8a" stroke-width="1.1"/>
<line x1="592.55" y1="99.41" x2="597.75" y2="99.41" stroke="#8a8a8a" stroke-width="1.1"/>
<line x1="592.55" y1="103.12" x2="597.75" y2="103.12" stroke="#8a8a8a" stroke-width="1.1"/>
<line x1="602.15" y1="95.08" x2="602.15" y2="105.6" stroke="#8a8a8a" stroke-width="1.1"/>
<line x1="599.55" y1="95.08" x2="604.75" y2="95.08" stroke="#8a8a8a" stroke-width="1.1"/>
<line x1="599.55" y1="105.6" x2="604.75" y2="105.6" stroke="#8a8a8a" stroke-width="1.1"/>
<rect x="616.46" y="105.29" width="6.3" height="17.01" fill="#c91f2b"/>
<rect x="623.46" y="107.76" width="6.3" height="14.54" fill="#1b72bd"/>
<line x1="619.61" y1="103.74" x2="619.61" y2="106.83" stroke="#8a8a8a" stroke-width="1.1"/>
<line x1="617.01" y1="103.74" x2="622.21" y2="103.74" stroke="#8a8a8a" stroke-width="1.1"/>
<line x1="617.01" y1="106.83" x2="622.21" y2="106.83" stroke="#8a8a8a" stroke-width="1.1"/>
<line x1="626.61" y1="103.74" x2="626.61" y2="111.78" stroke="#8a8a8a" stroke-width="1.1"/>
<line x1="624.01" y1="103.74" x2="629.21" y2="103.74" stroke="#8a8a8a" stroke-width="1.1"/>
<line x1="624.01" y1="111.78" x2="629.21" y2="111.78" stroke="#8a8a8a" stroke-width="1.1"/>
<rect x="640.92" y="110.86" width="6.3" height="11.44" fill="#c91f2b"/>
<rect x="647.92" y="113.95" width="6.3" height="8.35" fill="#1b72bd"/>
<line x1="644.07" y1="109.31" x2="644.07" y2="112.4" stroke="#8a8a8a" stroke-width="1.1"/>
<line x1="641.47" y1="109.31" x2="646.67" y2="109.31" stroke="#8a8a8a" stroke-width="1.1"/>
<line x1="641.47" y1="112.4" x2="646.67" y2="112.4" stroke="#8a8a8a" stroke-width="1.1"/>
<line x1="651.07" y1="111.47" x2="651.07" y2="116.42" stroke="#8a8a8a" stroke-width="1.1"/>
<line x1="648.47" y1="111.47" x2="653.67" y2="111.47" stroke="#8a8a8a" stroke-width="1.1"/>
<line x1="648.47" y1="116.42" x2="653.67" y2="116.42" stroke="#8a8a8a" stroke-width="1.1"/>
<rect x="665.38" y="116.73" width="6.3" height="5.57" fill="#c91f2b"/>
<rect x="672.38" y="104.98" width="6.3" height="17.32" fill="#1b72bd"/>
<line x1="668.53" y1="116.11" x2="668.53" y2="117.35" stroke="#8a8a8a" stroke-width="1.1"/>
<line x1="665.93" y1="116.11" x2="671.13" y2="116.11" stroke="#8a8a8a" stroke-width="1.1"/>
<line x1="665.93" y1="117.35" x2="671.13" y2="117.35" stroke="#8a8a8a" stroke-width="1.1"/>
<line x1="675.53" y1="98.17" x2="675.53" y2="111.78" stroke="#8a8a8a" stroke-width="1.1"/>
<line x1="672.93" y1="98.17" x2="678.13" y2="98.17" stroke="#8a8a8a" stroke-width="1.1"/>
<line x1="672.93" y1="111.78" x2="678.13" y2="111.78" stroke="#8a8a8a" stroke-width="1.1"/>
<rect x="689.84" y="113.95" width="6.3" height="8.35" fill="#c91f2b"/>
<rect x="696.84" y="102.81" width="6.3" height="19.49" fill="#1b72bd"/>
<line x1="692.99" y1="109.62" x2="692.99" y2="118.28" stroke="#8a8a8a" stroke-width="1.1"/>
<line x1="690.39" y1="109.62" x2="695.59" y2="109.62" stroke="#8a8a8a" stroke-width="1.1"/>
<line x1="690.39" y1="118.28" x2="695.59" y2="118.28" stroke="#8a8a8a" stroke-width="1.1"/>
<line x1="699.99" y1="90.44" x2="699.99" y2="115.19" stroke="#8a8a8a" stroke-width="1.1"/>
<line x1="697.39" y1="90.44" x2="702.59" y2="90.44" stroke="#8a8a8a" stroke-width="1.1"/>
<line x1="697.39" y1="115.19" x2="702.59" y2="115.19" stroke="#8a8a8a" stroke-width="1.1"/>
<text x="548.73" y="135.6" font-size="10" text-anchor="middle" font-weight="bold" fill="#222">C</text>
<text x="573.19" y="135.6" font-size="10" text-anchor="middle" font-weight="bold" fill="#222">1</text>
<text x="597.65" y="135.6" font-size="10" text-anchor="middle" font-weight="bold" fill="#222">3</text>
<text x="622.11" y="135.6" font-size="10" text-anchor="middle" font-weight="bold" fill="#222">6</text>
<text x="646.57" y="135.6" font-size="10" text-anchor="middle" font-weight="bold" fill="#222">12</text>
<text x="671.03" y="135.6" font-size="10" text-anchor="middle" font-weight="bold" fill="#222">24</text>
<text x="695.49" y="135.6" font-size="10" text-anchor="middle" font-weight="bold" fill="#222">48</text>
<line x1="560.3" y1="138.1" x2="708.72" y2="138.1" stroke="#1a1a1a" stroke-width="1.2"/>
<text x="638.7" y="149.6" font-size="10.2" text-anchor="middle" font-weight="bold" fill="#222">Time with NRG, hours</text>
<text x="610.4" y="16.9" font-size="10" text-anchor="middle" font-weight="bold" fill="#222">MCF7</text>
<text x="480.05" y="76.5" font-size="10.3" text-anchor="middle" font-weight="bold" fill="#222" transform="rotate(-90 480.05 76.5)">Relative mRNA levels</text>
<text x="492.25" y="76.5" font-size="10.3" text-anchor="middle" font-weight="bold" fill="#222" transform="rotate(-90 492.25 76.5)">(normalized to untreated</text>
<text x="505.35" y="76.5" font-size="10.25" text-anchor="middle" font-weight="bold" fill="#222" transform="rotate(-90 505.35 76.5)">control)</text>
<rect x="620" y="34.2" width="10" height="10" fill="#c91f2b"/>
<text x="637.6" y="42.9" font-size="10.3" text-anchor="start" font-weight="bold" fill="#222" font-style="italic">ESR1</text>
<rect x="681.3" y="32.8" width="9.4" height="9.8" fill="#1b72bd"/>
<text x="698.5" y="42.9" font-size="10.3" text-anchor="start" font-weight="bold" fill="#222" font-style="italic">PGR</text>
<line x1="537.5" y1="205.4" x2="537.5" y2="298.9" stroke="#1a1a1a" stroke-width="1.3"/>
<line x1="536.9" y1="298.3" x2="708.72" y2="298.3" stroke="#1a1a1a" stroke-width="1.3"/>
<line x1="561.96" y1="298.3" x2="561.96" y2="301.7" stroke="#1a1a1a" stroke-width="1.1"/>
<line x1="586.42" y1="298.3" x2="586.42" y2="301.7" stroke="#1a1a1a" stroke-width="1.1"/>
<line x1="610.88" y1="298.3" x2="610.88" y2="301.7" stroke="#1a1a1a" stroke-width="1.1"/>
<line x1="635.34" y1="298.3" x2="635.34" y2="301.7" stroke="#1a1a1a" stroke-width="1.1"/>
<line x1="659.8" y1="298.3" x2="659.8" y2="301.7" stroke="#1a1a1a" stroke-width="1.1"/>
<line x1="684.26" y1="298.3" x2="684.26" y2="301.7" stroke="#1a1a1a" stroke-width="1.1"/>
<line x1="708.72" y1="298.3" x2="708.72" y2="301.7" stroke="#1a1a1a" stroke-width="1.1"/>
<line x1="534.5" y1="298.3" x2="537.5" y2="298.3" stroke="#1a1a1a" stroke-width="1.1"/>
<text x="531.5" y="301.9" font-size="10" text-anchor="end" font-weight="bold" fill="#222">0.0</text>
<line x1="534.5" y1="251.85" x2="537.5" y2="251.85" stroke="#1a1a1a" stroke-width="1.1"/>
<text x="531.5" y="255.45" font-size="10" text-anchor="end" font-weight="bold" fill="#222">0.5</text>
<line x1="534.5" y1="205.4" x2="537.5" y2="205.4" stroke="#1a1a1a" stroke-width="1.1"/>
<text x="531.5" y="209.0" font-size="10" text-anchor="end" font-weight="bold" fill="#222">1.0</text>
<rect x="543.08" y="205.4" width="6.3" height="92.9" fill="#c91f2b"/>
<rect x="550.08" y="205.4" width="6.3" height="92.9" fill="#1b72bd"/>
<line x1="546.23" y1="205.03" x2="546.23" y2="205.77" stroke="#8a8a8a" stroke-width="1.1"/>
<line x1="543.63" y1="205.03" x2="548.83" y2="205.03" stroke="#8a8a8a" stroke-width="1.1"/>
<line x1="543.63" y1="205.77" x2="548.83" y2="205.77" stroke="#8a8a8a" stroke-width="1.1"/>
<line x1="553.23" y1="205.03" x2="553.23" y2="205.77" stroke="#8a8a8a" stroke-width="1.1"/>
<line x1="550.63" y1="205.03" x2="555.83" y2="205.03" stroke="#8a8a8a" stroke-width="1.1"/>
<line x1="550.63" y1="205.77" x2="555.83" y2="205.77" stroke="#8a8a8a" stroke-width="1.1"/>
<rect x="567.54" y="218.87" width="6.3" height="79.43" fill="#c91f2b"/>
<rect x="574.54" y="207.26" width="6.3" height="91.04" fill="#1b72bd"/>
<line x1="570.69" y1="216.08" x2="570.69" y2="221.66" stroke="#8a8a8a" stroke-width="1.1"/>
<line x1="568.09" y1="216.08" x2="573.29" y2="216.08" stroke="#8a8a8a" stroke-width="1.1"/>
<line x1="568.09" y1="221.66" x2="573.29" y2="221.66" stroke="#8a8a8a" stroke-width="1.1"/>
<line x1="577.69" y1="205.4" x2="577.69" y2="209.12" stroke="#8a8a8a" stroke-width="1.1"/>
<line x1="575.09" y1="205.4" x2="580.29" y2="205.4" stroke="#8a8a8a" stroke-width="1.1"/>
<line x1="575.09" y1="209.12" x2="580.29" y2="209.12" stroke="#8a8a8a" stroke-width="1.1"/>
<rect x="592.0" y="239.31" width="6.3" height="58.99" fill="#c91f2b"/>
<rect x="599.0" y="212.83" width="6.3" height="85.47" fill="#1b72bd"/>
<line x1="595.15" y1="230.95" x2="595.15" y2="247.67" stroke="#8a8a8a" stroke-width="1.1"/>
<line x1="592.55" y1="230.95" x2="597.75" y2="230.95" stroke="#8a8a8a" stroke-width="1.1"/>
<line x1="592.55" y1="247.67" x2="597.75" y2="247.67" stroke="#8a8a8a" stroke-width="1.1"/>
<line x1="602.15" y1="211.9" x2="602.15" y2="213.76" stroke="#8a8a8a" stroke-width="1.1"/>
<line x1="599.55" y1="211.9" x2="604.75" y2="211.9" stroke="#8a8a8a" stroke-width="1.1"/>
<line x1="599.55" y1="213.76" x2="604.75" y2="213.76" stroke="#8a8a8a" stroke-width="1.1"/>
<rect x="616.46" y="238.84" width="6.3" height="59.46" fill="#c91f2b"/>
<rect x="623.46" y="260.21" width="6.3" height="38.09" fill="#1b72bd"/>
<line x1="619.61" y1="231.41" x2="619.61" y2="246.28" stroke="#8a8a8a" stroke-width="1.1"/>
<line x1="617.01" y1="231.41" x2="622.21" y2="231.41" stroke="#8a8a8a" stroke-width="1.1"/>
<line x1="617.01" y1="246.28" x2="622.21" y2="246.28" stroke="#8a8a8a" stroke-width="1.1"/>
<line x1="626.61" y1="256.5" x2="626.61" y2="263.93" stroke="#8a8a8a" stroke-width="1.1"/>
<line x1="624.01" y1="256.5" x2="629.21" y2="256.5" stroke="#8a8a8a" stroke-width="1.1"/>
<line x1="624.01" y1="263.93" x2="629.21" y2="263.93" stroke="#8a8a8a" stroke-width="1.1"/>
<rect x="640.92" y="245.35" width="6.3" height="52.95" fill="#c91f2b"/>
<rect x="647.92" y="250.92" width="6.3" height="47.38" fill="#1b72bd"/>
<line x1="644.07" y1="242.56" x2="644.07" y2="248.13" stroke="#8a8a8a" stroke-width="1.1"/>
<line x1="641.47" y1="242.56" x2="646.67" y2="242.56" stroke="#8a8a8a" stroke-width="1.1"/>
<line x1="641.47" y1="248.13" x2="646.67" y2="248.13" stroke="#8a8a8a" stroke-width="1.1"/>
<line x1="651.07" y1="249.06" x2="651.07" y2="252.78" stroke="#8a8a8a" stroke-width="1.1"/>
<line x1="648.47" y1="249.06" x2="653.67" y2="249.06" stroke="#8a8a8a" stroke-width="1.1"/>
<line x1="648.47" y1="252.78" x2="653.67" y2="252.78" stroke="#8a8a8a" stroke-width="1.1"/>
<rect x="665.38" y="264.86" width="6.3" height="33.44" fill="#c91f2b"/>
<rect x="672.38" y="263.93" width="6.3" height="34.37" fill="#1b72bd"/>
<line x1="668.53" y1="255.57" x2="668.53" y2="274.15" stroke="#8a8a8a" stroke-width="1.1"/>
<line x1="665.93" y1="255.57" x2="671.13" y2="255.57" stroke="#8a8a8a" stroke-width="1.1"/>
<line x1="665.93" y1="274.15" x2="671.13" y2="274.15" stroke="#8a8a8a" stroke-width="1.1"/>
<line x1="675.53" y1="257.42" x2="675.53" y2="270.43" stroke="#8a8a8a" stroke-width="1.1"/>
<line x1="672.93" y1="257.42" x2="678.13" y2="257.42" stroke="#8a8a8a" stroke-width="1.1"/>
<line x1="672.93" y1="270.43" x2="678.13" y2="270.43" stroke="#8a8a8a" stroke-width="1.1"/>
<rect x="689.84" y="271.36" width="6.3" height="26.94" fill="#c91f2b"/>
<rect x="696.84" y="278.79" width="6.3" height="19.51" fill="#1b72bd"/>
<line x1="692.99" y1="269.5" x2="692.99" y2="273.22" stroke="#8a8a8a" stroke-width="1.1"/>
<line x1="690.39" y1="269.5" x2="695.59" y2="269.5" stroke="#8a8a8a" stroke-width="1.1"/>
<line x1="690.39" y1="273.22" x2="695.59" y2="273.22" stroke="#8a8a8a" stroke-width="1.1"/>
<line x1="699.99" y1="276.93" x2="699.99" y2="280.65" stroke="#8a8a8a" stroke-width="1.1"/>
<line x1="697.39" y1="276.93" x2="702.59" y2="276.93" stroke="#8a8a8a" stroke-width="1.1"/>
<line x1="697.39" y1="280.65" x2="702.59" y2="280.65" stroke="#8a8a8a" stroke-width="1.1"/>
<text x="548.73" y="311.5" font-size="10" text-anchor="middle" font-weight="bold" fill="#222">C</text>
<text x="573.19" y="311.5" font-size="10" text-anchor="middle" font-weight="bold" fill="#222">1</text>
<text x="597.65" y="311.5" font-size="10" text-anchor="middle" font-weight="bold" fill="#222">3</text>
<text x="622.11" y="311.5" font-size="10" text-anchor="middle" font-weight="bold" fill="#222">6</text>
<text x="646.57" y="311.5" font-size="10" text-anchor="middle" font-weight="bold" fill="#222">12</text>
<text x="671.03" y="311.5" font-size="10" text-anchor="middle" font-weight="bold" fill="#222">24</text>
<text x="695.49" y="311.5" font-size="10" text-anchor="middle" font-weight="bold" fill="#222">48</text>
<line x1="560.3" y1="312.3" x2="708.72" y2="312.3" stroke="#1a1a1a" stroke-width="1.2"/>
<text x="638.7" y="325.0" font-size="10.2" text-anchor="middle" font-weight="bold" fill="#222">Time with NRG, hours</text>
<text x="614.6" y="191.5" font-size="10" text-anchor="middle" font-weight="bold" fill="#222">T47D</text>
<text x="481.25" y="251.5" font-size="10.3" text-anchor="middle" font-weight="bold" fill="#222" transform="rotate(-90 481.25 251.5)">Relative mRNA levels</text>
<text x="492.95" y="251.5" font-size="10.3" text-anchor="middle" font-weight="bold" fill="#222" transform="rotate(-90 492.95 251.5)">(normalized to untreated</text>
<text x="505.05" y="251.5" font-size="10.25" text-anchor="middle" font-weight="bold" fill="#222" transform="rotate(-90 505.05 251.5)">control)</text>
<rect x="620" y="206.2" width="10" height="10" fill="#c91f2b"/>
<text x="637.6" y="214.9" font-size="10.3" text-anchor="start" font-weight="bold" fill="#222" font-style="italic">ESR1</text>
<rect x="681.3" y="204.8" width="9.4" height="9.8" fill="#1b72bd"/>
<text x="698.5" y="214.9" font-size="10.3" text-anchor="start" font-weight="bold" fill="#222" font-style="italic">PGR</text>
<line x1="537.5" y1="386.35" x2="537.5" y2="479.8" stroke="#1a1a1a" stroke-width="1.3"/>
<line x1="536.9" y1="479.2" x2="708.72" y2="479.2" stroke="#1a1a1a" stroke-width="1.3"/>
<line x1="561.96" y1="479.2" x2="561.96" y2="482.6" stroke="#1a1a1a" stroke-width="1.1"/>
<line x1="586.42" y1="479.2" x2="586.42" y2="482.6" stroke="#1a1a1a" stroke-width="1.1"/>
<line x1="610.88" y1="479.2" x2="610.88" y2="482.6" stroke="#1a1a1a" stroke-width="1.1"/>
<line x1="635.34" y1="479.2" x2="635.34" y2="482.6" stroke="#1a1a1a" stroke-width="1.1"/>
<line x1="659.8" y1="479.2" x2="659.8" y2="482.6" stroke="#1a1a1a" stroke-width="1.1"/>
<line x1="684.26" y1="479.2" x2="684.26" y2="482.6" stroke="#1a1a1a" stroke-width="1.1"/>
<line x1="708.72" y1="479.2" x2="708.72" y2="482.6" stroke="#1a1a1a" stroke-width="1.1"/>
<line x1="534.5" y1="479.2" x2="537.5" y2="479.2" stroke="#1a1a1a" stroke-width="1.1"/>
<text x="531.5" y="482.8" font-size="10" text-anchor="end" font-weight="bold" fill="#222">0.0</text>
<line x1="534.5" y1="448.25" x2="537.5" y2="448.25" stroke="#1a1a1a" stroke-width="1.1"/>
<text x="531.5" y="451.85" font-size="10" text-anchor="end" font-weight="bold" fill="#222">0.5</text>
<line x1="534.5" y1="417.3" x2="537.5" y2="417.3" stroke="#1a1a1a" stroke-width="1.1"/>
<text x="531.5" y="420.9" font-size="10" text-anchor="end" font-weight="bold" fill="#222">1.0</text>
<line x1="534.5" y1="386.35" x2="537.5" y2="386.35" stroke="#1a1a1a" stroke-width="1.1"/>
<text x="531.5" y="389.95" font-size="10" text-anchor="end" font-weight="bold" fill="#222">1.5</text>
<rect x="543.08" y="417.3" width="6.3" height="61.9" fill="#c91f2b"/>
<rect x="550.08" y="417.3" width="6.3" height="61.9" fill="#1b72bd"/>
<line x1="546.23" y1="415.44" x2="546.23" y2="419.16" stroke="#8a8a8a" stroke-width="1.1"/>
<line x1="543.63" y1="415.44" x2="548.83" y2="415.44" stroke="#8a8a8a" stroke-width="1.1"/>
<line x1="543.63" y1="419.16" x2="548.83" y2="419.16" stroke="#8a8a8a" stroke-width="1.1"/>
<line x1="553.23" y1="415.44" x2="553.23" y2="419.16" stroke="#8a8a8a" stroke-width="1.1"/>
<line x1="550.63" y1="415.44" x2="555.83" y2="415.44" stroke="#8a8a8a" stroke-width="1.1"/>
<line x1="550.63" y1="419.16" x2="555.83" y2="419.16" stroke="#8a8a8a" stroke-width="1.1"/>
<rect x="567.54" y="400.59" width="6.3" height="78.61" fill="#c91f2b"/>
<rect x="574.54" y="396.25" width="6.3" height="82.95" fill="#1b72bd"/>
<line x1="570.69" y1="398.11" x2="570.69" y2="403.06" stroke="#8a8a8a" stroke-width="1.1"/>
<line x1="568.09" y1="398.11" x2="573.29" y2="398.11" stroke="#8a8a8a" stroke-width="1.1"/>
<line x1="568.09" y1="403.06" x2="573.29" y2="403.06" stroke="#8a8a8a" stroke-width="1.1"/>
<line x1="577.69" y1="393.78" x2="577.69" y2="398.73" stroke="#8a8a8a" stroke-width="1.1"/>
<line x1="575.09" y1="393.78" x2="580.29" y2="393.78" stroke="#8a8a8a" stroke-width="1.1"/>
<line x1="575.09" y1="398.73" x2="580.29" y2="398.73" stroke="#8a8a8a" stroke-width="1.1"/>
<rect x="592.0" y="445.15" width="6.3" height="34.05" fill="#c91f2b"/>
<rect x="599.0" y="443.92" width="6.3" height="35.28" fill="#1b72bd"/>
<line x1="595.15" y1="438.96" x2="595.15" y2="451.34" stroke="#8a8a8a" stroke-width="1.1"/>
<line x1="592.55" y1="438.96" x2="597.75" y2="438.96" stroke="#8a8a8a" stroke-width="1.1"/>
<line x1="592.55" y1="451.34" x2="597.75" y2="451.34" stroke="#8a8a8a" stroke-width="1.1"/>
<line x1="602.15" y1="434.63" x2="602.15" y2="453.2" stroke="#8a8a8a" stroke-width="1.1"/>
<line x1="599.55" y1="434.63" x2="604.75" y2="434.63" stroke="#8a8a8a" stroke-width="1.1"/>
<line x1="599.55" y1="453.2" x2="604.75" y2="453.2" stroke="#8a8a8a" stroke-width="1.1"/>
<rect x="616.46" y="440.2" width="6.3" height="39" fill="#c91f2b"/>
<rect x="623.46" y="462.49" width="6.3" height="16.71" fill="#1b72bd"/>
<line x1="619.61" y1="434.01" x2="619.61" y2="446.39" stroke="#8a8a8a" stroke-width="1.1"/>
<line x1="617.01" y1="434.01" x2="622.21" y2="434.01" stroke="#8a8a8a" stroke-width="1.1"/>
<line x1="617.01" y1="446.39" x2="622.21" y2="446.39" stroke="#8a8a8a" stroke-width="1.1"/>
<line x1="626.61" y1="459.39" x2="626.61" y2="465.58" stroke="#8a8a8a" stroke-width="1.1"/>
<line x1="624.01" y1="459.39" x2="629.21" y2="459.39" stroke="#8a8a8a" stroke-width="1.1"/>
<line x1="624.01" y1="465.58" x2="629.21" y2="465.58" stroke="#8a8a8a" stroke-width="1.1"/>
<rect x="640.92" y="453.2" width="6.3" height="26" fill="#c91f2b"/>
<rect x="647.92" y="458.15" width="6.3" height="21.05" fill="#1b72bd"/>
<line x1="644.07" y1="450.11" x2="644.07" y2="456.3" stroke="#8a8a8a" stroke-width="1.1"/>
<line x1="641.47" y1="450.11" x2="646.67" y2="450.11" stroke="#8a8a8a" stroke-width="1.1"/>
<line x1="641.47" y1="456.3" x2="646.67" y2="456.3" stroke="#8a8a8a" stroke-width="1.1"/>
<line x1="651.07" y1="456.92" x2="651.07" y2="459.39" stroke="#8a8a8a" stroke-width="1.1"/>
<line x1="648.47" y1="456.92" x2="653.67" y2="456.92" stroke="#8a8a8a" stroke-width="1.1"/>
<line x1="648.47" y1="459.39" x2="653.67" y2="459.39" stroke="#8a8a8a" stroke-width="1.1"/>
<rect x="665.38" y="472.39" width="6.3" height="6.81" fill="#c91f2b"/>
<rect x="672.38" y="471.77" width="6.3" height="7.43" fill="#1b72bd"/>
<line x1="668.53" y1="470.53" x2="668.53" y2="474.25" stroke="#8a8a8a" stroke-width="1.1"/>
<line x1="665.93" y1="470.53" x2="671.13" y2="470.53" stroke="#8a8a8a" stroke-width="1.1"/>
<line x1="665.93" y1="474.25" x2="671.13" y2="474.25" stroke="#8a8a8a" stroke-width="1.1"/>
<line x1="675.53" y1="469.3" x2="675.53" y2="474.25" stroke="#8a8a8a" stroke-width="1.1"/>
<line x1="672.93" y1="469.3" x2="678.13" y2="469.3" stroke="#8a8a8a" stroke-width="1.1"/>
<line x1="672.93" y1="474.25" x2="678.13" y2="474.25" stroke="#8a8a8a" stroke-width="1.1"/>
<rect x="689.84" y="465.58" width="6.3" height="13.62" fill="#c91f2b"/>
<rect x="696.84" y="471.15" width="6.3" height="8.05" fill="#1b72bd"/>
<line x1="692.99" y1="462.49" x2="692.99" y2="468.68" stroke="#8a8a8a" stroke-width="1.1"/>
<line x1="690.39" y1="462.49" x2="695.59" y2="462.49" stroke="#8a8a8a" stroke-width="1.1"/>
<line x1="690.39" y1="468.68" x2="695.59" y2="468.68" stroke="#8a8a8a" stroke-width="1.1"/>
<line x1="699.99" y1="469.3" x2="699.99" y2="473.01" stroke="#8a8a8a" stroke-width="1.1"/>
<line x1="697.39" y1="469.3" x2="702.59" y2="469.3" stroke="#8a8a8a" stroke-width="1.1"/>
<line x1="697.39" y1="473.01" x2="702.59" y2="473.01" stroke="#8a8a8a" stroke-width="1.1"/>
<text x="548.73" y="492.9" font-size="10" text-anchor="middle" font-weight="bold" fill="#222">C</text>
<text x="573.19" y="492.9" font-size="10" text-anchor="middle" font-weight="bold" fill="#222">1</text>
<text x="597.65" y="492.9" font-size="10" text-anchor="middle" font-weight="bold" fill="#222">3</text>
<text x="622.11" y="492.9" font-size="10" text-anchor="middle" font-weight="bold" fill="#222">6</text>
<text x="646.57" y="492.9" font-size="10" text-anchor="middle" font-weight="bold" fill="#222">12</text>
<text x="671.03" y="492.9" font-size="10" text-anchor="middle" font-weight="bold" fill="#222">24</text>
<text x="695.49" y="492.9" font-size="10" text-anchor="middle" font-weight="bold" fill="#222">48</text>
<line x1="560.3" y1="495.4" x2="708.72" y2="495.4" stroke="#1a1a1a" stroke-width="1.2"/>
<text x="638.7" y="507.3" font-size="10.2" text-anchor="middle" font-weight="bold" fill="#222">Time with NRG, hours</text>
<text x="619.8" y="371.8" font-size="10" text-anchor="middle" font-weight="bold" fill="#222">BT474</text>
<text x="478.55" y="431" font-size="10.3" text-anchor="middle" font-weight="bold" fill="#222" transform="rotate(-90 478.55 431)">Relative mRNA levels</text>
<text x="491.55" y="431" font-size="10.3" text-anchor="middle" font-weight="bold" fill="#222" transform="rotate(-90 491.55 431)">(normalized to untreated</text>
<text x="504.05" y="430.7" font-size="10.25" text-anchor="middle" font-weight="bold" fill="#222" transform="rotate(-90 504.05 430.7)" letter-spacing="-0.6">control)</text>
<rect x="620" y="394.6" width="10" height="10" fill="#c91f2b"/>
<text x="637.6" y="403.3" font-size="10.3" text-anchor="start" font-weight="bold" fill="#222" font-style="italic">ESR1</text>
<rect x="681.3" y="393.2" width="9.4" height="9.8" fill="#1b72bd"/>
<text x="698.5" y="403.3" font-size="10.3" text-anchor="start" font-weight="bold" fill="#222" font-style="italic">PGR</text>
</svg>
</body></html>
